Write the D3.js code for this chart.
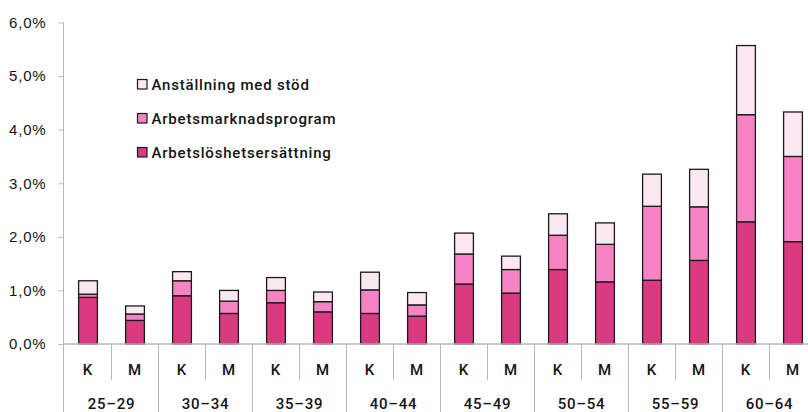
<!DOCTYPE html>
<html>
<head>
<meta charset="utf-8">
<script src="https://cdn.jsdelivr.net/npm/d3@7"></script>
<style>
  html, body { margin: 0; padding: 0; background: #fff; }
  svg { display: block; font-family: Roboto, "DejaVu Sans", sans-serif; }
  svg text { letter-spacing: 0.8px; fill: #141414; font-weight: 500; }
</style>
</head>
<body>
<svg id="chart" width="808" height="412"></svg>
<script>
// Age groups and sex (K = kvinnor, M = män)
const ageGroups = ["25-29", "30-34", "35-39", "40-44", "45-49", "50-54", "55-59", "60-64"];
const sexes = ["K", "M"];

// Share of population (%) per bar, ordered K, M for each age group
const arbetsloshetsersattning = [0.87, 0.44, 0.90, 0.57, 0.77, 0.60, 0.57, 0.52, 1.12, 0.95, 1.39, 1.16, 1.19, 1.56, 2.28, 1.91];
const arbetsmarknadsprogram   = [0.06, 0.12, 0.28, 0.23, 0.23, 0.19, 0.44, 0.21, 0.56, 0.44, 0.64, 0.70, 1.38, 1.00, 2.00, 1.59];
const anstallningMedStod      = [0.25, 0.15, 0.17, 0.20, 0.24, 0.18, 0.33, 0.23, 0.39, 0.25, 0.40, 0.40, 0.60, 0.70, 1.29, 0.83];

const seriesNames = ["Arbetslöshetsersättning", "Arbetsmarknadsprogram", "Anställning med stöd"];
const seriesColors = ["#db3a80", "#f683c3", "#fbe8f1"];
const yTicks = [0, 1, 2, 3, 4, 5, 6];

const rows = [];
ageGroups.forEach((g, gi) => sexes.forEach((s, si) => {
  const i = gi * 2 + si;
  rows.push({
    key: g + "_" + s, group: g, sex: s,
    [seriesNames[0]]: arbetsloshetsersattning[i],
    [seriesNames[1]]: arbetsmarknadsprogram[i],
    [seriesNames[2]]: anstallningMedStod[i]
  });
}));

const svg = d3.select("#chart");
const left = 64.5, step = 47, zeroY = 344, topY = 22.5;

const x = d3.scaleBand()
  .domain(rows.map(d => d.key))
  .range([left, left + step * rows.length])
  .paddingInner(0.6).paddingOuter(0.3);

const y = d3.scaleLinear().domain([0, 6]).range([zeroY, topY]);

const fmt = v => d3.format(".1f")(v).replace(".", ",") + "%";

// Y axis
const yAxis = svg.append("g")
  .attr("transform", `translate(${left - 1},0)`)
  .call(d3.axisLeft(y).tickValues(yTicks).tickFormat(fmt).tickSize(5).tickPadding(12));
yAxis.select(".domain").remove();
yAxis.selectAll(".tick line").attr("stroke", "#b8b8b8");
yAxis.selectAll(".tick text").attr("fill", "#141414").attr("font-size", 15);
svg.append("line")
  .attr("x1", left - 1).attr("x2", left - 1)
  .attr("y1", y(6)).attr("y2", 412)
  .attr("stroke", "#b8b8b8");

// Stacked bars
const stack = d3.stack().keys(seriesNames);
const layers = stack(rows);

svg.append("g").selectAll("g")
  .data(layers)
  .join("g")
  .attr("fill", (d, i) => seriesColors[i])
  .selectAll("rect")
  .data(d => d)
  .join("rect")
  .attr("x", d => x(d.data.key))
  .attr("width", x.bandwidth())
  .attr("y", d => y(d[1]))
  .attr("height", d => y(d[0]) - y(d[1]))
  .attr("stroke", "#1a1a1a")
  .attr("stroke-width", 1.3);

// Category axis: baseline, separators and labels
svg.append("line")
  .attr("x1", left - 1).attr("x2", 808)
  .attr("y1", zeroY).attr("y2", zeroY)
  .attr("stroke", "#b8b8b8").attr("stroke-width", 1.5);

const xAxis = svg.append("g");
rows.forEach((d, i) => {
  const xs = left + step * i;
  if (i > 0) {
    xAxis.append("line")
      .attr("x1", xs).attr("x2", xs)
      .attr("y1", zeroY).attr("y2", i % 2 === 0 ? 412 : 380)
      .attr("stroke", "#b8b8b8");
  }
  xAxis.append("text")
    .attr("x", x(d.key) + x.bandwidth() / 2)
    .attr("y", 370)
    .attr("dy", "0.35em")
    .attr("text-anchor", "middle")
    .attr("font-size", 15)
    .text(d.sex);
});
ageGroups.forEach((g, gi) => {
  xAxis.append("text")
    .attr("x", left + step * (gi * 2 + 1))
    .attr("y", 403.5)
    .attr("dy", "0.35em")
    .attr("text-anchor", "middle")
    .attr("font-size", 15)
    .text(g.replace("-", "–"));
});

// Legend, top entry is the top segment
const legendItems = seriesNames.map((n, i) => ({ name: n, color: seriesColors[i] })).reverse();
const legend = svg.append("g").attr("transform", "translate(137.5,79.5)");
legendItems.forEach((d, i) => {
  const gy = i * 34;
  legend.append("rect")
    .attr("x", 0).attr("y", gy).attr("width", 9.5).attr("height", 9.5)
    .attr("fill", d.color).attr("stroke", "#1a1a1a").attr("stroke-width", 1.2);
  legend.append("text")
    .attr("x", 14).attr("y", gy + 5)
    .attr("dy", "0.35em")
    .attr("font-size", 15)
    .text(d.name);
});
</script>
</body>
</html>
